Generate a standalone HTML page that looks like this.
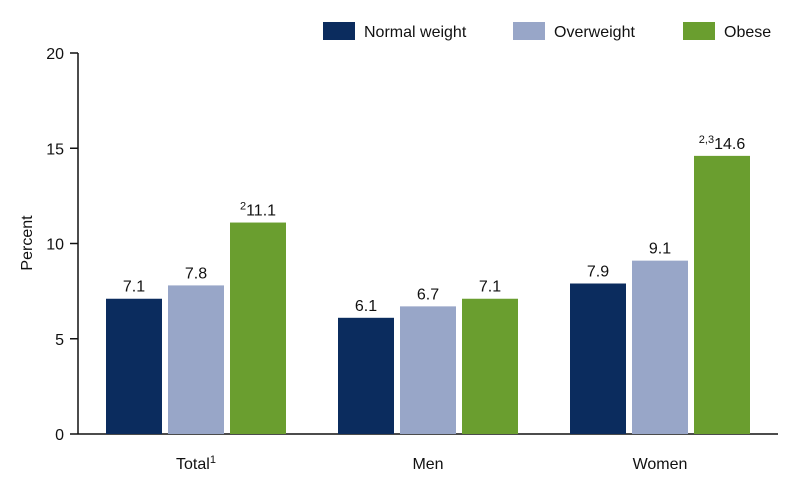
<!DOCTYPE html>
<html><head><meta charset="utf-8"><style>
body{margin:0;background:#fff;font-family:"Liberation Sans",Arial,sans-serif;}
svg text{font-family:"Liberation Sans",Arial,sans-serif;fill:#111;}
</style></head><body>
<svg id="chart" width="791" height="483">
<g id="legend">
<rect x="323" y="22" width="32" height="18" fill="#0b2c5e"/>
<text x="364" y="37" font-size="16">Normal weight</text>
<rect x="513" y="22" width="32" height="18" fill="#98a6c8"/>
<text x="554" y="37" font-size="16">Overweight</text>
<rect x="683" y="22" width="32" height="18" fill="#6a9e2f"/>
<text x="724" y="37" font-size="16">Obese</text>
</g>
<text transform="translate(32,243) rotate(-90)" text-anchor="middle" font-size="16">Percent</text>
<g id="axes"></g><g id="bars"></g>
</svg>
<script>
const categories=["Total","Men","Women"];
const catSup=["1","",""];
const normal=[7.1,6.1,7.9];
const overweight=[7.8,6.7,9.1];
const obese=[11.1,7.1,14.6];
const obeseSup=["2","","2,3"];
const yTicks=[0,5,10,15,20];
const NS="http://www.w3.org/2000/svg";
const y0=434,yTop=53,yMax=20;
function y(v){return y0-(v/yMax)*(y0-yTop);}
function groupCenter(i){return 196+i*232;}
const axes=document.getElementById('axes'),bars=document.getElementById('bars');
function mk(tag,attrs,parent){const e=document.createElementNS(NS,tag);for(const k in attrs)e.setAttribute(k,attrs[k]);parent.appendChild(e);return e;}
let yl=mk('line',{x1:78,x2:78,y1:yTop,y2:y0,stroke:'#111','stroke-width':1.5},axes);


let xl=mk('line',{x1:78,x2:778,y1:y0,y2:y0,stroke:'#111','stroke-width':1.5},axes);


yTicks.forEach(t=>{
 let tk=mk('line',{x1:70,x2:78,y1:y(t),y2:y(t),stroke:'#111','stroke-width':1.5},axes);
 
 
 let tl=mk('text',{x:64,y:y(t)+6,'text-anchor':'end','font-size':16},axes);
 tl.textContent=t;
 
 
});
const series=[{d:normal,c:'#0b2c5e',n:'normal'},{d:overweight,c:'#98a6c8',n:'overweight'},{d:obese,c:'#6a9e2f',n:'obese',sup:obeseSup}];
categories.forEach((cat,i)=>{
 const cx=groupCenter(i);
 series.forEach((s,j)=>{
  const x=cx-90+j*62,v=s.d[i];
  let r=mk('rect',{x:x,y:y(v),width:56,height:y0-y(v),fill:s.c},bars);
  
  
  let t=mk('text',{x:x+28,y:y(v)-7,'text-anchor':'middle','font-size':16},bars);
  if(s.sup&&s.sup[i]){
   let sp=mk('tspan',{'font-size':11,dy:-6},t);sp.textContent=s.sup[i];
   let sv=mk('tspan',{dy:6},t);sv.textContent=v.toFixed(1);
  } else t.textContent=v.toFixed(1);
  
  
 });
 let cl=mk('text',{x:cx,y:469,'text-anchor':'middle','font-size':16},axes);
 cl.textContent=cat;
 if(catSup[i]){let sp=mk('tspan',{'font-size':11,dy:-6},cl);sp.textContent=catSup[i];}
 
 
});
</script>
</body></html>
